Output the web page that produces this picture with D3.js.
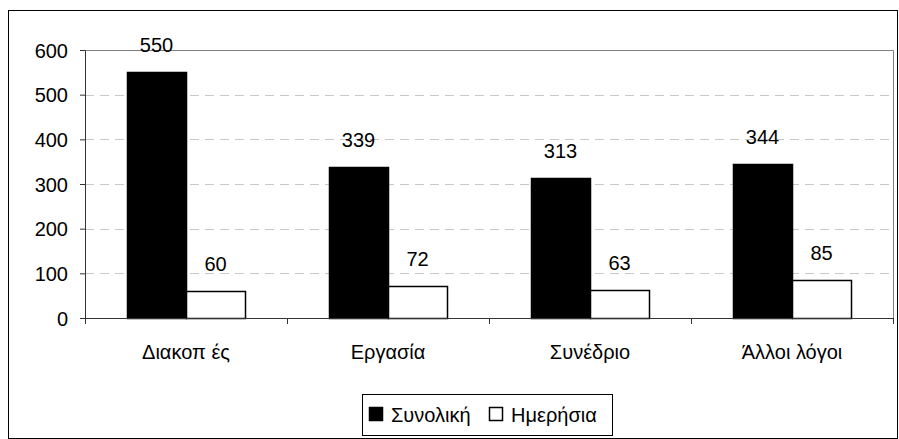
<!DOCTYPE html>
<html>
<head>
<meta charset="utf-8">
<script src="https://cdn.jsdelivr.net/npm/d3@7"></script>
<style>
    body { margin: 0; background: #fff; }
    svg text { font-family: "Liberation Sans", Arial, sans-serif; fill: #000; }
</style>
</head>
<body>
<svg id="chart" width="899" height="439"></svg>
<script>
    let categories = ["Διακοπ ές", "Εργασία", "Συνέδριο", "Άλλοι λόγοι"];
    let seriesNames = ["Συνολική", "Ημερήσια"];
    let totalValues = [550, 339, 313, 344];
    let dailyValues = [60, 72, 63, 85];
    let yTicks = [0, 100, 200, 300, 400, 500, 600];

    let fontSize = 20;
    let svg = d3.select("#chart");
    let plot = {left: 85, top: 50, right: 893, bottom: 318};

    // outer frame
    svg.append("rect")
        .attr("x", 8.5).attr("y", 10.5)
        .attr("width", 889).attr("height", 428)
        .attr("fill", "#fff").attr("stroke", "#000").attr("stroke-width", 1);

    let x = d3.scaleBand().domain(categories)
        .range([plot.left, plot.right]).paddingInner(0).paddingOuter(0);
    let xInner = d3.scaleBand().domain(seriesNames)
        .range([0, 118]);
    let y = d3.scaleLinear().domain([0, 600]).range([plot.bottom, plot.top]);

    // grid lines
    svg.append("g").selectAll("line")
        .data(yTicks.filter(d => d > 0 && d < 600))
        .enter().append("line")
        .attr("x1", plot.left).attr("x2", plot.right)
        .attr("y1", d => Math.round(y(d)) + 0.5)
        .attr("y2", d => Math.round(y(d)) + 0.5)
        .attr("stroke", "#c8c8c8")
        .attr("stroke-dasharray", "9,6");

    // plot area border (top / right)
    svg.append("path")
        .attr("d", `M${plot.left},${plot.top + 0.5}H${plot.right + 0.5}V${plot.bottom}`)
        .attr("fill", "none").attr("stroke", "#808080").attr("stroke-width", 1);

    let data = categories.map((c, i) => ({cat: c, vals: [totalValues[i], dailyValues[i]]}));

    let groups = svg.append("g").selectAll("g")
        .data(data)
        .enter().append("g")
        .attr("transform", d => "translate(" + (x(d.cat) + (x.bandwidth() - 118) / 2) + ",0)");

    groups.selectAll("rect")
        .data(d => d.vals.map((v, j) => ({name: seriesNames[j], v: v, j: j})))
        .enter().append("rect")
        .attr("x", d => xInner(d.name) + 0.5)
        .attr("y", d => Math.round(y(d.v)) + 0.5)
        .attr("width", xInner.bandwidth())
        .attr("height", d => plot.bottom - Math.round(y(d.v)))
        .attr("fill", d => d.j === 0 ? "#000" : "#fff")
        .attr("stroke", "#000").attr("stroke-width", 1.5);

    groups.selectAll("text")
        .data(d => d.vals.map((v, j) => ({name: seriesNames[j], v: v})))
        .enter().append("text")
        .attr("x", d => xInner(d.name) + xInner.bandwidth() / 2)
        .attr("y", d => y(d.v) - 20)
        .attr("text-anchor", "middle")
        .attr("font-size", fontSize)
        .text(d => d.v);

    // y axis
    let yAxis = svg.append("g")
        .attr("transform", "translate(" + plot.left + ",0)")
        .call(d3.axisLeft(y).tickValues(yTicks).tickSize(5).tickSizeOuter(0));
    yAxis.select(".domain").attr("stroke", "#333");
    yAxis.selectAll(".tick line").attr("stroke", "#333");
    yAxis.selectAll("text").attr("font-size", fontSize).attr("x", -17).attr("dy", "0.35em")
        .style("font-family", "Liberation Sans, Arial, sans-serif");

    // x axis
    let xAxis = svg.append("g")
        .attr("transform", "translate(0," + plot.bottom + ")")
        .call(d3.axisBottom(x).tickSize(0).tickSizeOuter(0));
    xAxis.select(".domain").attr("stroke", "#333");
    xAxis.selectAll("text").attr("font-size", fontSize).attr("y", 27)
        .style("font-family", "Liberation Sans, Arial, sans-serif");
    svg.append("g").selectAll("line")
        .data(categories.map(c => x(c)).concat([plot.right]))
        .enter().append("line")
        .attr("x1", d => Math.round(d) + 0.5).attr("x2", d => Math.round(d) + 0.5)
        .attr("y1", plot.bottom).attr("y2", plot.bottom + 6)
        .attr("stroke", "#333");

    // legend
    let legend = svg.append("g").attr("transform", "translate(362,394)");
    legend.append("rect")
        .attr("x", 0.5).attr("y", 0.5).attr("width", 250).attr("height", 41)
        .attr("fill", "#fff").attr("stroke", "#000");
    let legendX = [7, 127];
    seriesNames.forEach((s, i) => {
        legend.append("rect")
            .attr("x", legendX[i] + 0.5).attr("y", 13.5)
            .attr("width", 13).attr("height", 13)
            .attr("fill", i === 0 ? "#000" : "#fff")
            .attr("stroke", "#000").attr("stroke-width", 1.5);
        legend.append("text")
            .attr("x", legendX[i] + 22).attr("y", 28)
            .attr("font-size", fontSize)
            .text(s);
    });
</script>
</body>
</html>
